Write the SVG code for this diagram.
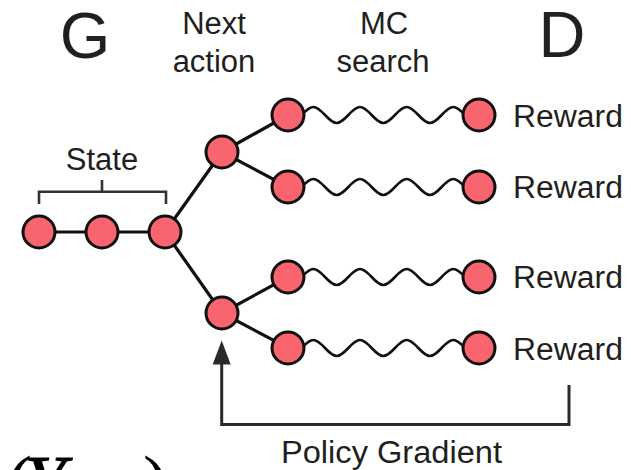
<svg xmlns="http://www.w3.org/2000/svg" width="631" height="470" viewBox="0 0 631 470">
  <style>
    .node { fill: #f8656e; stroke: #111; stroke-width: 3; }
    .edge { stroke: #111; stroke-width: 3.2; fill: none; }
    .wave { stroke: #111; stroke-width: 2.6; fill: none; }
    .lbl { font-family: "Liberation Sans", Arial, sans-serif; fill: #231f20; font-size: 31px; }
    .big { font-family: "Liberation Sans", Arial, sans-serif; fill: #231f20; font-size: 65px; }
    .math { font-family: "Liberation Serif", "Times New Roman", serif; fill: #000; font-size: 75px; }
    .fb { stroke: #2a2a2a; stroke-width: 3; fill: none; }
  </style>
  <defs>
    <!-- one MC rollout wave, drawn from x=0 relative to the start node centre -->
    <path id="wave" d="M 2 8 c 8.4 0 14.93 -16 23.33 -16 c 8.4 0 14.93 16 23.33 16 c 8.4 0 14.93 -16 23.33 -16 c 8.4 0 14.93 16 23.33 16 c 8.4 0 14.93 -16 23.33 -16 c 8.4 0 14.93 16 23.33 16 c 8.4 0 14.93 -16 23.33 -16 c 8.4 0 14.93 16 23.33 16"/>
  </defs>

  <!-- headings -->
  <text class="big" x="85" y="58" text-anchor="middle">G</text>
  <text class="big" x="562" y="57" text-anchor="middle">D</text>
  <text class="lbl" x="214" y="34" text-anchor="middle">Next</text>
  <text class="lbl" x="214" y="72" text-anchor="middle">action</text>
  <text class="lbl" x="384" y="34" text-anchor="middle">MC</text>
  <text class="lbl" x="383" y="72" text-anchor="middle">search</text>

  <!-- state bracket -->
  <g id="state-label">
    <text class="lbl" x="102" y="169.5" text-anchor="middle">State</text>
    <path d="M 39 204 V 191.7 H 166 V 204 M 102 191.7 V 180" stroke="#333" stroke-width="2.6" fill="none"/>
  </g>

  <!-- connectors -->
  <g id="connectors">
    <line class="edge" x1="39" y1="232" x2="165" y2="232"/>
    <line class="edge" x1="165" y1="232" x2="222" y2="152"/>
    <line class="edge" x1="165" y1="232" x2="222" y2="313"/>
    <line class="edge" x1="222" y1="152" x2="288" y2="115"/>
    <line class="edge" x1="222" y1="152" x2="288" y2="187"/>
    <line class="edge" x1="222" y1="313" x2="288" y2="277"/>
    <line class="edge" x1="222" y1="313" x2="288" y2="348"/>
    <use href="#wave" class="wave" x="288" y="115"/>
    <use href="#wave" class="wave" x="288" y="187"/>
    <use href="#wave" class="wave" x="288" y="277"/>
    <use href="#wave" class="wave" x="288" y="348"/>
    <!-- policy gradient feedback -->
    <path class="fb" d="M 569 385 V 424.5 H 221.7 V 362"/>
    <polygon points="221.7,340.5 212.7,364.5 230.7,364.5" fill="#2a2a2a"/>
  </g>

  <!-- state nodes -->
  <g id="s1"><circle class="node" cx="39" cy="232" r="16"/></g>
  <g id="s2"><circle class="node" cx="102" cy="232" r="16"/></g>
  <g id="s3"><circle class="node" cx="165" cy="232" r="16"/></g>

  <!-- next action nodes -->
  <g id="a1"><circle class="node" cx="222" cy="152" r="16"/></g>
  <g id="a2"><circle class="node" cx="222" cy="313" r="16"/></g>

  <!-- rollout start / end nodes with rewards -->
  <g id="r1">
    <circle class="node" cx="288" cy="115" r="16"/>
    <circle class="node" cx="479" cy="115" r="16"/>
    <text class="lbl" x="513" y="126.5" textLength="110" lengthAdjust="spacingAndGlyphs">Reward</text>
  </g>
  <g id="r2">
    <circle class="node" cx="288" cy="187" r="16"/>
    <circle class="node" cx="479" cy="187" r="16"/>
    <text class="lbl" x="513" y="198.3" textLength="110" lengthAdjust="spacingAndGlyphs">Reward</text>
  </g>
  <g id="r3">
    <circle class="node" cx="288" cy="277" r="16"/>
    <circle class="node" cx="479" cy="277" r="16"/>
    <text class="lbl" x="513" y="288.3" textLength="110" lengthAdjust="spacingAndGlyphs">Reward</text>
  </g>
  <g id="r4">
    <circle class="node" cx="288" cy="348" r="16"/>
    <circle class="node" cx="479" cy="348" r="16"/>
    <text class="lbl" x="513" y="359.5" textLength="110" lengthAdjust="spacingAndGlyphs">Reward</text>
  </g>

  <text class="lbl" x="281" y="463.3" textLength="221" lengthAdjust="spacingAndGlyphs">Policy Gradient</text>

  <!-- sequence symbol, cut by the lower edge -->
  <text class="math" x="7" y="507">(</text>
  <text class="math" x="24" y="507" font-style="italic" stroke="#000" stroke-width="1.2">Y</text>
  <text class="math" x="143" y="507">)</text>
</svg>
